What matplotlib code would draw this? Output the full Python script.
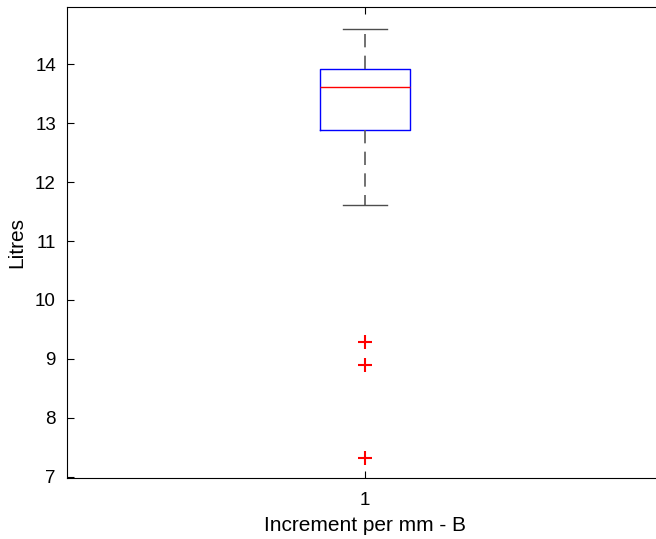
import matplotlib
matplotlib.use("Agg")
import matplotlib.pyplot as plt

plt.rcParams['font.family'] = ['Liberation Sans', 'DejaVu Sans']

# box statistics
group_labels = ["1"]
whisker_low = [11.61]
q1 = [12.88]
median = [13.61]
q3 = [13.92]
whisker_high = [14.59]
outliers = [[9.29, 8.90, 7.32]]

stats = []
for i in range(len(group_labels)):
    stats.append({
        "label": group_labels[i],
        "whislo": whisker_low[i],
        "q1": q1[i],
        "med": median[i],
        "q3": q3[i],
        "whishi": whisker_high[i],
        "fliers": outliers[i],
    })

fig = plt.figure(figsize=(6.56, 5.39), dpi=100)
# the axes runs a little past the right edge, as in the original export
ax = fig.add_axes([67 / 656, 61 / 539, 596 / 656, 471 / 539])

ax.bxp(stats, positions=[1], widths=0.151,
       boxprops=dict(color="blue", linewidth=1),
       medianprops=dict(color="red", linewidth=1),
       whiskerprops=dict(color="0.35", linewidth=1.2, linestyle=(0, (8, 5))),
       capprops=dict(color="0.3", linewidth=1),
       capwidths=0.074,
       flierprops=dict(marker="+", markeredgecolor="red", markersize=10,
                       markeredgewidth=1.5, linestyle="none"))

ax.set_xlim(0.5, 1.5)
ax.set_ylim(6.98, 14.97)
ax.set_yticks(range(7, 15))
ax.set_xticks([1])
ax.set_xticklabels(group_labels)
ax.tick_params(direction="in", top=True, right=False, labelsize=13.5, length=5)
ax.tick_params(axis="x", pad=10)
ax.tick_params(axis="y", pad=8)
for s in ax.spines.values():
    s.set_linewidth(0.8)

ax.set_ylabel("Litres", fontsize=15, labelpad=6)
ax.set_xlabel("Increment per mm - B", fontsize=15, labelpad=5)

fig.savefig("out.png", dpi=100)
